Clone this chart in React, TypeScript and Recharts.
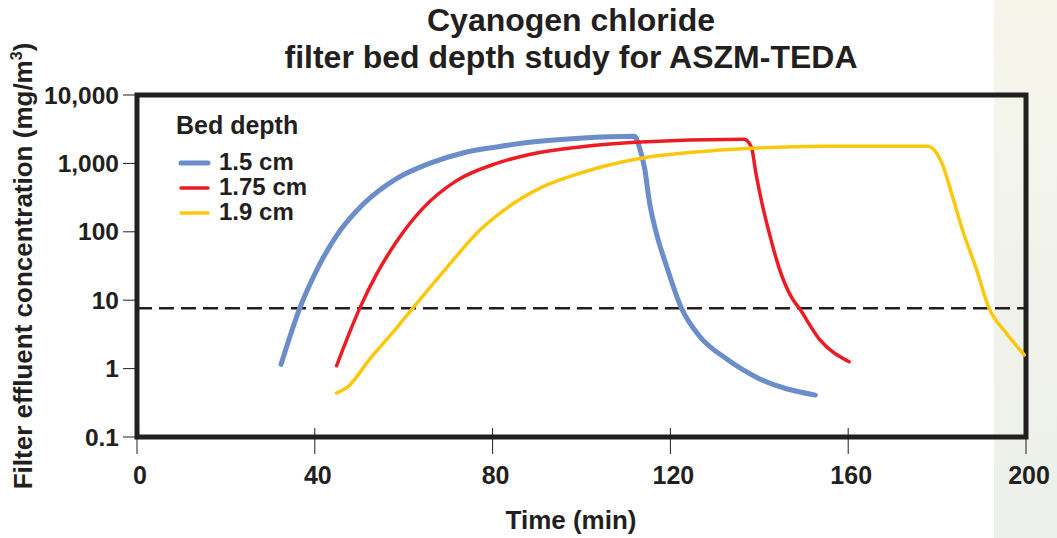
import React from 'react';
import { LineChart, Line, XAxis, YAxis, ReferenceLine, ReferenceArea } from 'recharts';

// x ticks in minutes, y ticks in mg/m3 (log)
const X_TICKS = [0, 40, 80, 120, 160, 200];
const Y_TICKS = [0.1, 1, 10, 100, 1000, 10000];
const THRESHOLD = 7.6;

// 1.5 cm bed
const bedA_time = [32.4, 36.6, 40.6, 44.9, 50.8, 58.4, 65.8, 73.3, 80.9, 88.3, 99.6, 111.9, 113, 114.2, 115.3, 116.8, 119.1, 122.5, 126.5, 132.6, 140, 152.6];
const bedA_conc = [1.15, 7.6, 29, 88, 250, 600, 1000, 1420, 1740, 2040, 2340, 2500, 1740, 850, 270, 98, 32, 7.6, 3.0, 1.39, 0.71, 0.41];

// 1.75 cm bed
const bedB_time = [44.9, 50.1, 53.9, 58.4, 64.3, 71.9, 80.9, 88.3, 99.6, 112, 136.6, 138.2, 139.3, 140.7, 142.2, 144.5, 147.4, 149, 153.5, 160.2];
const bedB_conc = [1.1, 7.6, 24, 72, 220, 560, 1000, 1350, 1740, 2040, 2260, 1740, 680, 245, 98, 29, 10.6, 7.6, 2.7, 1.26];

// 1.9 cm bed
const bedC_time = [44.9, 47.4, 52.4, 57.5, 62, 69.7, 77.1, 84.5, 92.1, 99.6, 113.7, 125, 138.2, 155, 177.8, 181.1, 183.4, 185.6, 188.8, 191.7, 195.5, 199.6];
const bedC_conc = [0.44, 0.54, 1.39, 3.35, 7.6, 30, 105, 255, 480, 718, 1200, 1450, 1660, 1780, 1780, 1000, 340, 112, 29, 7.6, 3.35, 1.59];

const SERIES = [
  { name: '1.5 cm', color: '#6b8dca', width: 5, time: bedA_time, conc: bedA_conc },
  { name: '1.75 cm', color: '#ed1c24', width: 3.5, time: bedB_time, conc: bedB_conc },
  { name: '1.9 cm', color: '#fdc80c', width: 3.5, time: bedC_time, conc: bedC_conc },
];

const INK = '#231f20';
const FONT = '"Liberation Sans", Arial, Helvetica, sans-serif';

const fmtY = (v: number) => (v >= 1000 ? v.toLocaleString('en-US') : String(v));

// x tick: thin mark crossing the frame, label below
const XTick = (props: any) => {
  const { x, y, payload } = props;
  const axisY = y - 16;
  return (
    <g>
      <line x1={x} x2={x} y1={axisY - 9} y2={axisY + 17} stroke={INK} strokeWidth={1} />
      <text x={x + 3} y={axisY + 47} textAnchor="middle" fontSize={25} fontWeight="bold" fill={INK} fontFamily={FONT}>
        {payload.value}
      </text>
    </g>
  );
};

export default function App() {
  return (
    <div style={{ position: 'fixed', left: 0, top: 0, width: 1057, height: 538, background: '#fff', overflow: 'hidden' }}>
      <div style={{ position: 'absolute', left: 994, top: 0, width: 63, height: 538, background: 'linear-gradient(#f5f5ea, #edf0eb)' }} />
      <div style={{ position: 'absolute', left: 0, top: 0 }}>
        <LineChart width={1057} height={538} margin={{ top: 95, right: 31, bottom: 41, left: 57 }}>
          <XAxis
            type="number"
            dataKey="t"
            domain={[0, 200]}
            ticks={X_TICKS}
            height={60}
            axisLine={false}
            tickLine={false}
            tickSize={16}
            tickMargin={0}
            tick={<XTick />}
            allowDataOverflow
          />
          <YAxis
            scale="log"
            domain={[0.1, 10000]}
            ticks={Y_TICKS}
            width={80}
            axisLine={false}
            tickLine={{ stroke: INK, strokeWidth: 1 }}
            tickSize={14}
            tickMargin={4}
            tickFormatter={fmtY}
            tick={{ fontSize: 24.5, fontWeight: 'bold', fill: INK, fontFamily: FONT }}
            allowDataOverflow
          />
          <ReferenceLine y={THRESHOLD} stroke={INK} strokeWidth={2.5} strokeDasharray="15 7" />
          {SERIES.map(s => (
            <Line
              key={s.name}
              data={s.time.map((t, i) => ({ t, c: s.conc[i] }))}
              dataKey="c"
              name={s.name}
              type="monotone"
              stroke={s.color}
              strokeWidth={s.width}
              strokeLinecap="round"
              dot={false}
              isAnimationActive={false}
            />
          ))}
          <ReferenceArea x1={0} x2={200} y1={0.1} y2={10000} fill="none" stroke={INK} strokeWidth={5} />
        </LineChart>
      </div>
      <svg width={1057} height={538} style={{ position: 'absolute', left: 0, top: 0, pointerEvents: 'none' }} fontFamily={FONT} fontWeight="bold" fill={INK}>
        <text x={571} y={31} textAnchor="middle" fontSize={32}>Cyanogen chloride</text>
        <text x={571} y={68} textAnchor="middle" fontSize={32}>filter bed depth study for ASZM-TEDA</text>
        <text x={571} y={529} textAnchor="middle" fontSize={26}>Time (min)</text>
        <text transform="rotate(-90)" x={-266} y={32} textAnchor="middle" fontSize={26}>
          Filter effluent concentration (mg/m<tspan dy={-10} fontSize={16}>3</tspan><tspan dy={10}>)</tspan>
        </text>
        <text x={176} y={134} fontSize={25}>Bed depth</text>
        {SERIES.map((s, i) => (
          <g key={s.name}>
            <line x1={181} x2={208} y1={163 + i * 25} y2={163 + i * 25} stroke={s.color} strokeWidth={s.width} strokeLinecap="round" />
            <text x={219} y={169.5 + i * 25} fontSize={24}>{s.name}</text>
          </g>
        ))}
      </svg>
    </div>
  );
}
